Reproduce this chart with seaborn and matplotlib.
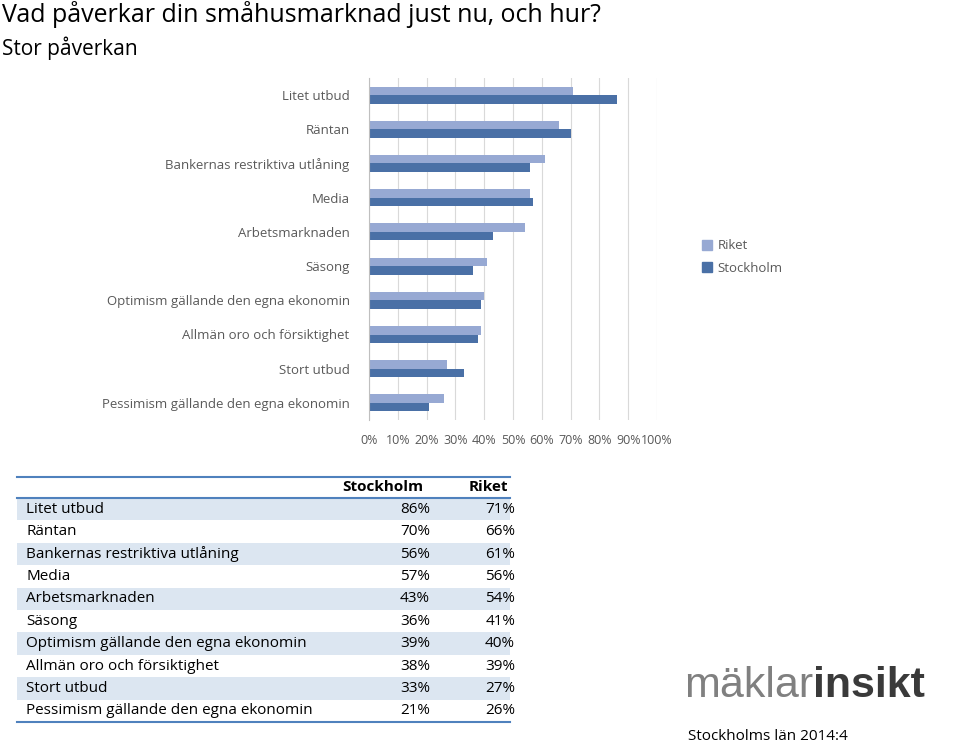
import matplotlib
matplotlib.use("Agg")
import matplotlib.pyplot as plt
import seaborn as sns
import pandas as pd
from matplotlib.patches import Rectangle
from matplotlib.lines import Line2D

categories = ["Litet utbud", "Räntan", "Bankernas restriktiva utlåning", "Media",
              "Arbetsmarknaden", "Säsong", "Optimism gällande den egna ekonomin",
              "Allmän oro och försiktighet", "Stort utbud", "Pessimism gällande den egna ekonomin"]
stockholm = [86, 70, 56, 57, 43, 36, 39, 38, 33, 21]
riket = [71, 66, 61, 56, 54, 41, 40, 39, 27, 26]
ticks = list(range(0, 101, 10))

W, H = 960, 746
fig = plt.figure(figsize=(W/100, H/100), dpi=100)
FONT = "Open Sans"

df = pd.DataFrame({"cat": categories * 2, "val": riket + stockholm,
                   "serie": ["Riket"] * 10 + ["Stockholm"] * 10})
ax = fig.add_axes([369/W, 1-420/H, (657-369)/W, (420-78)/H])
sns.barplot(data=df, y="cat", x="val", hue="serie", orient="h", ax=ax,
            palette={"Riket": "#97A9D3", "Stockholm": "#4A70A6"},
            width=0.5, gap=0, saturation=1, legend=False)
ax.set_xlim(0, 100)
ax.set_xticks(ticks)
ax.set_xticklabels([f"{t}%" for t in ticks], fontsize=9, color="#595959", family=FONT)
ax.tick_params(axis="y", length=0, pad=14, labelsize=9.5, labelcolor="#595959")
for l in ax.get_yticklabels():
    l.set_family(FONT)
ax.tick_params(axis="x", length=0, pad=10)
ax.set_xlabel(""); ax.set_ylabel("")
ax.grid(axis="x", color="#D9D9D9", lw=0.8)
ax.set_axisbelow(True)
for s in ["top", "right", "bottom"]:
    ax.spines[s].set_visible(False)
ax.spines["left"].set_color("#BFBFBF")

handles = [Rectangle((0, 0), 1, 1, color="#97A9D3"), Rectangle((0, 0), 1, 1, color="#4A70A6")]
leg = fig.legend(handles, ["Riket", "Stockholm"], loc="center left",
                 bbox_to_anchor=(690/W, 1-257/H), frameon=False, handlelength=0.8,
                 handleheight=0.8, labelspacing=0.7, handletextpad=0.4,
                 prop={"family": FONT, "size": 9.5})
for t in leg.get_texts():
    t.set_color("#595959")

fig.text(2/W, 1-14/H, "Vad påverkar din småhusmarknad just nu, och hur?", fontsize=18,
         family=FONT, va="center", ha="left")
fig.text(2/W, 1-48/H, "Stor påverkan", fontsize=15, family=FONT, va="center", ha="left")

# table
top, hdr, rowh = 477, 498, 22.4
x0, x1 = 17, 510
fig.add_artist(Line2D([x0/W, x1/W], [1-top/H]*2, color="#4F81BD", lw=1.5))
fig.add_artist(Line2D([x0/W, x1/W], [1-hdr/H]*2, color="#4F81BD", lw=1.5))
fig.text(423/W, 1-487/H, "Stockholm", ha="right", va="center", fontsize=11,
         fontweight="bold", family=FONT)
fig.text(508/W, 1-487/H, "Riket", ha="right", va="center", fontsize=11,
         fontweight="bold", family=FONT)
for i, (c, s, r) in enumerate(zip(categories, stockholm, riket)):
    yt = hdr + i*rowh
    yc = 1 - (yt + rowh/2)/H
    if i % 2 == 0:
        fig.add_artist(Rectangle((x0/W, 1-(yt+rowh)/H), (x1-x0)/W, rowh/H,
                                 color="#DCE6F1", lw=0, zorder=0))
    fig.text(26/W, yc, c, ha="left", va="center", fontsize=11, family=FONT)
    fig.text(430/W, yc, f"{s}%", ha="right", va="center", fontsize=11, family=FONT)
    fig.text(515/W, yc, f"{r}%", ha="right", va="center", fontsize=11, family=FONT)
yb = hdr + 10*rowh
fig.add_artist(Line2D([x0/W, x1/W], [1-yb/H]*2, color="#4F81BD", lw=1.5))

# logo
t1 = fig.text(684/W, 1-686/H, "mäklar", fontsize=31, family="Liberation Sans",
              color="#808080", va="center", ha="left")
fig.canvas.draw()
bb = t1.get_window_extent()
fig.text(bb.x1/W, 1-686/H, "insikt", fontsize=31, family="Liberation Sans",
         fontweight="bold", color="#3A3A3A", va="center", ha="left")
fig.text(688/W, 1-737/H, "Stockholms län 2014:4", fontsize=11, family=FONT,
         va="center", ha="left")

fig.savefig("out.png", dpi=100)
